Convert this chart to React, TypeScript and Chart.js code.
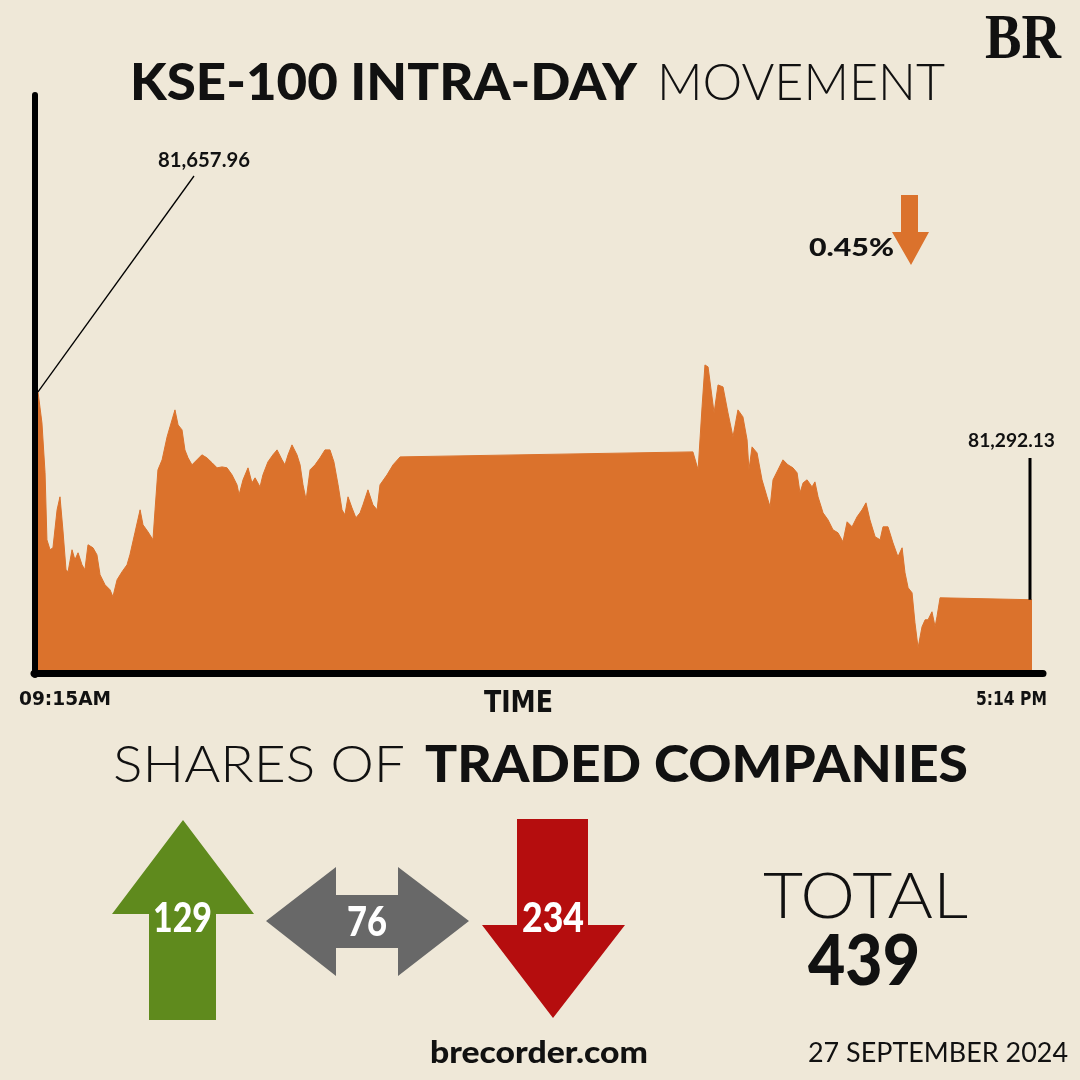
import React, { useEffect, useRef } from "react";
import { Chart, registerables } from "chart.js";

Chart.register(...registerables);

// ---- Data ----
const minutesFromOpen = [
  0, 1.9, 3.4, 4.3, 5.8, 7.2, 9.2, 10.6, 12.0, 13.5,
  14.5, 16.4, 17.8, 19.3, 21.2, 22.6, 24.1, 26.5, 28.4, 29.9,
  32.3, 34.7, 36.1, 38.1, 40.5, 42.9, 44.3, 46.7, 49.2, 50.6,
  53.0, 55.4, 56.4, 57.8, 59.8, 62.2, 63.6, 66.0, 67.5, 69.4,
  70.8, 72.3, 74.2, 76.6, 79.0, 81.4, 83.9, 86.3, 88.7, 91.1,
  93.5, 95.9, 96.9, 98.8, 101.2, 103.1, 104.6, 107.0, 108.4, 110.8,
  113.2, 115.2, 117.6, 119.0, 120.5, 122.4, 124.8, 126.3, 127.7, 129.2,
  131.1, 133.5, 135.9, 138.3, 140.7, 142.6, 144.6, 146.5, 147.9, 149.4,
  151.3, 153.2, 155.2, 156.6, 159.0, 161.4, 163.4, 164.8, 168.2, 171.1,
  174.5, 315.6, 318.1, 320.0, 321.4, 322.9, 324.8, 325.8, 327.7, 330.1,
  332.5, 334.9, 337.3, 339.7, 341.7, 342.6, 344.1, 346.5, 348.9, 351.3,
  352.8, 354.2, 356.6, 359.0, 361.4, 363.8, 365.8, 367.2, 368.7, 370.6,
  373.0, 374.4, 375.9, 378.3, 380.7, 383.1, 385.5, 387.9, 389.9, 392.3,
  394.7, 397.1, 399.0, 400.9, 403.4, 405.8, 407.2, 409.6, 412.0, 414.4,
  416.4, 417.8, 419.3, 421.2, 422.6, 424.1, 426.0, 427.5, 428.9, 430.8,
  432.3, 433.2, 434.7, 479,
];

const kseValues = [
  81657.96, 81603.4, 81515.5, 81397.7, 81380.1, 81383.6, 81450.4, 81473.3, 81415.2, 81344.9,
  81341.4, 81380.1, 81362.5, 81374.8, 81353.7, 81344.9, 81388.9, 81383.6, 81371.3, 81336.1,
  81318.5, 81309.7, 81297.4, 81327.3, 81341.4, 81353.7, 81371.3, 81410.0, 81450.4, 81424.0,
  81411.7, 81397.7, 81450.4, 81520.8, 81538.4, 81578.8, 81596.4, 81626.3, 81599.9, 81591.1,
  81555.9, 81541.9, 81529.6, 81538.4, 81547.2, 81541.9, 81533.1, 81524.3, 81526.0, 81524.3,
  81512.0, 81494.4, 81476.8, 81503.2, 81524.3, 81497.9, 81506.7, 81490.8, 81512.0, 81534.8,
  81547.2, 81555.9, 81538.4, 81529.6, 81547.2, 81564.7, 81547.2, 81529.6, 81494.4, 81468.0,
  81520.8, 81529.6, 81541.9, 81555.9, 81555.9, 81534.8, 81494.4, 81450.4, 81441.6, 81473.3,
  81453.9, 81436.3, 81445.1, 81459.2, 81485.6, 81459.2, 81450.4, 81494.4, 81512.0, 81529.6,
  81543.6, 81552.4, 81520.8, 81631.6, 81705.4, 81701.9, 81649.1, 81621.0, 81670.2, 81666.7,
  81621.0, 81578.8, 81626.3, 81614.0, 81573.5, 81520.8, 81561.2, 81550.6, 81503.2, 81473.3,
  81455.7, 81503.2, 81520.8, 81538.4, 81529.6, 81524.3, 81515.5, 81480.3, 81497.9, 81503.2,
  81490.8, 81499.6, 81473.3, 81445.1, 81432.8, 81415.2, 81410.0, 81394.1, 81429.3, 81420.5,
  81438.1, 81450.4, 81462.7, 81432.8, 81402.9, 81397.7, 81420.5, 81420.5, 81392.4, 81367.7,
  81383.6, 81339.6, 81313.2, 81304.4, 81251.7, 81207.7, 81244.6, 81256.9, 81256.9, 81271.0,
  81244.6, 81262.2, 81295.6, 81292.13,
];

const timeLabels = ["09:15AM", "5:14 PM"];
const axisTitle = "TIME";
const changeLabel = "0.45%";
const shareCategories = ["Advanced", "Unchanged", "Declined"];
const shareCounts = [129, 76, 234];
const totalCompanies = 439;
const dateLabel = "27 SEPTEMBER 2024";
const siteLabel = "brecorder.com";

const Y_MIN = 81165;
const Y_MAX = 82184;
const X_MAX = 479;

const BG = "#EFE8D8";
const ORANGE = "#DB722C";
const GREEN = "#5F8A1D";
const GRAY = "#686868";
const RED = "#B50D0E";

const fmt = (v: number) =>
  v.toLocaleString("en-US", { minimumFractionDigits: 2, maximumFractionDigits: 2 });

function fitText(
  ctx: CanvasRenderingContext2D,
  text: string,
  font: string,
  left: number,
  right: number,
  baseline: number,
  color: string
) {
  ctx.save();
  ctx.font = font;
  ctx.fillStyle = color;
  ctx.textAlign = "left";
  ctx.textBaseline = "alphabetic";
  const w = ctx.measureText(text).width;
  ctx.translate(left, baseline);
  ctx.scale((right - left) / w, 1);
  ctx.fillText(text, 0, 0);
  ctx.restore();
}

function poly(ctx: CanvasRenderingContext2D, pts: number[][], color: string) {
  ctx.beginPath();
  ctx.moveTo(pts[0][0], pts[0][1]);
  for (let i = 1; i < pts.length; i++) ctx.lineTo(pts[i][0], pts[i][1]);
  ctx.closePath();
  ctx.fillStyle = color;
  ctx.fill();
}

const decorPlugin = {
  id: "decor",
  beforeDraw(chart: any) {
    const ctx = chart.ctx as CanvasRenderingContext2D;
    ctx.save();
    ctx.fillStyle = BG;
    ctx.fillRect(0, 0, chart.width, chart.height);
    ctx.restore();
  },
  afterDatasetsDraw(chart: any) {
    const ctx = chart.ctx as CanvasRenderingContext2D;
    const a = chart.chartArea;
    ctx.save();
    ctx.strokeStyle = "#000";
    ctx.lineCap = "round";
    ctx.lineWidth = 6;
    ctx.beginPath();
    ctx.moveTo(a.left - 3, a.top + 2);
    ctx.lineTo(a.left - 3, a.bottom + 3);
    ctx.stroke();
    ctx.lineWidth = 7;
    ctx.beginPath();
    ctx.moveTo(a.left - 4, a.bottom + 1.5);
    ctx.lineTo(a.right + 11, a.bottom + 1.5);
    ctx.stroke();
    ctx.restore();
  },
  afterDraw(chart: any) {
    const ctx = chart.ctx as CanvasRenderingContext2D;
    const xs = chart.scales.x;
    const ys = chart.scales.y;
    const n = kseValues.length;
    const x0 = xs.getPixelForValue(minutesFromOpen[0]);
    const y0 = ys.getPixelForValue(kseValues[0]);
    const xe = xs.getPixelForValue(minutesFromOpen[n - 1]);
    const ye = ys.getPixelForValue(kseValues[n - 1]);

    ctx.save();
    // open annotation
    ctx.strokeStyle = "#000";
    ctx.lineWidth = 1.3;
    ctx.beginPath();
    ctx.moveTo(x0, y0);
    ctx.lineTo(194, 176);
    ctx.stroke();
    fitText(ctx, fmt(kseValues[0]), "bold 20px Lato", 158, 250, 167, "#111");

    // close annotation
    ctx.lineWidth = 3;
    ctx.beginPath();
    ctx.moveTo(xe - 2, ye);
    ctx.lineTo(xe - 2, 458);
    ctx.stroke();
    fitText(ctx, fmt(kseValues[n - 1]), "bold 19px Lato", 968, 1055, 447, "#111");

    // change
    fitText(ctx, changeLabel, "900 24px Lato", 809, 894, 256, "#111");
    poly(ctx, [[901, 195], [918, 195], [918, 232], [929, 232], [911, 265], [892, 232], [901, 232]], ORANGE);

    // title
    fitText(ctx, "KSE-100 INTRA-DAY", "900 52px Lato", 130, 637, 100, "#111");
    fitText(ctx, "MOVEMENT", "300 52px Lato", 657, 945, 100, "#111");

    // logo
    fitText(ctx, "BR", "bold 64px 'Liberation Serif'", 985, 1061, 58, "#111");

    // axis labels
    const cond = "bold 20px 'DejaVu Sans Condensed', 'DejaVu Sans'";
    fitText(ctx, timeLabels[0], cond, 19, 111, 705, "#111");
    fitText(ctx, timeLabels[1], cond, 976, 1047, 705, "#111");
    fitText(ctx, axisTitle, "bold 30px 'DejaVu Sans Condensed', 'DejaVu Sans'", 484, 553, 712, "#111");

    // shares heading
    fitText(ctx, "SHARES OF", "300 52px Lato", 113, 405, 782, "#111");
    fitText(ctx, "TRADED COMPANIES", "900 52px Lato", 425, 968, 782, "#111");

    // arrows
    poly(ctx, [[183, 820], [254, 914], [216, 914], [216, 1020], [149, 1020], [149, 914], [112, 914]], GREEN);
    poly(ctx, [[266, 921], [336, 867], [336, 895], [398, 895], [398, 867], [469, 921], [398, 976], [398, 948], [336, 948], [336, 976]], GRAY);
    poly(ctx, [[517, 819], [588, 819], [588, 925], [625, 925], [553, 1018], [482, 925], [517, 925]], RED);

    const numFont = "900 41px Lato";
    fitText(ctx, String(shareCounts[0]), numFont, 153, 212, 932, "#fff");
    fitText(ctx, String(shareCounts[1]), numFont, 347, 387, 936, "#fff");
    fitText(ctx, String(shareCounts[2]), numFont, 522, 584, 932, "#fff");

    // total
    fitText(ctx, "TOTAL", "300 63px Lato", 763, 968, 918, "#111");
    fitText(ctx, String(totalCompanies), "900 70px Lato", 808, 920, 985, "#111");

    // footer
    fitText(ctx, siteLabel, "900 31px Lato", 430, 648, 1063, "#111");
    fitText(ctx, dateLabel, "400 26px Lato", 808, 1068, 1062, "#111");
    ctx.restore();
  },
};

export default function App() {
  const ref = useRef<HTMLCanvasElement | null>(null);
  useEffect(() => {
    if (!ref.current) return;
    const points = minutesFromOpen.map((m, i) => ({ x: m, y: kseValues[i] }));
    const chart = new Chart(ref.current, {
      type: "line",
      data: {
        datasets: [
          {
            label: "KSE-100",
            data: points,
            borderColor: ORANGE,
            backgroundColor: ORANGE,
            borderWidth: 1,
            pointRadius: 0,
            tension: 0,
            fill: "start",
          },
        ],
      },
      options: {
        responsive: false,
        animation: false,
        events: [],
        layout: { padding: { left: 38, top: 93, right: 48, bottom: 408 } },
        plugins: { legend: { display: false }, tooltip: { enabled: false }, title: { display: false } },
        scales: {
          x: { type: "linear", min: 0, max: X_MAX, display: false },
          y: { min: Y_MIN, max: Y_MAX, display: false },
        },
      },
      plugins: [decorPlugin],
    });
    return () => chart.destroy();
  }, []);
  return (
    <div style={{ position: "fixed", left: 0, top: 0, width: 1080, height: 1080, background: BG }}>
      <canvas ref={ref} width={1080} height={1080} />
    </div>
  );
}
